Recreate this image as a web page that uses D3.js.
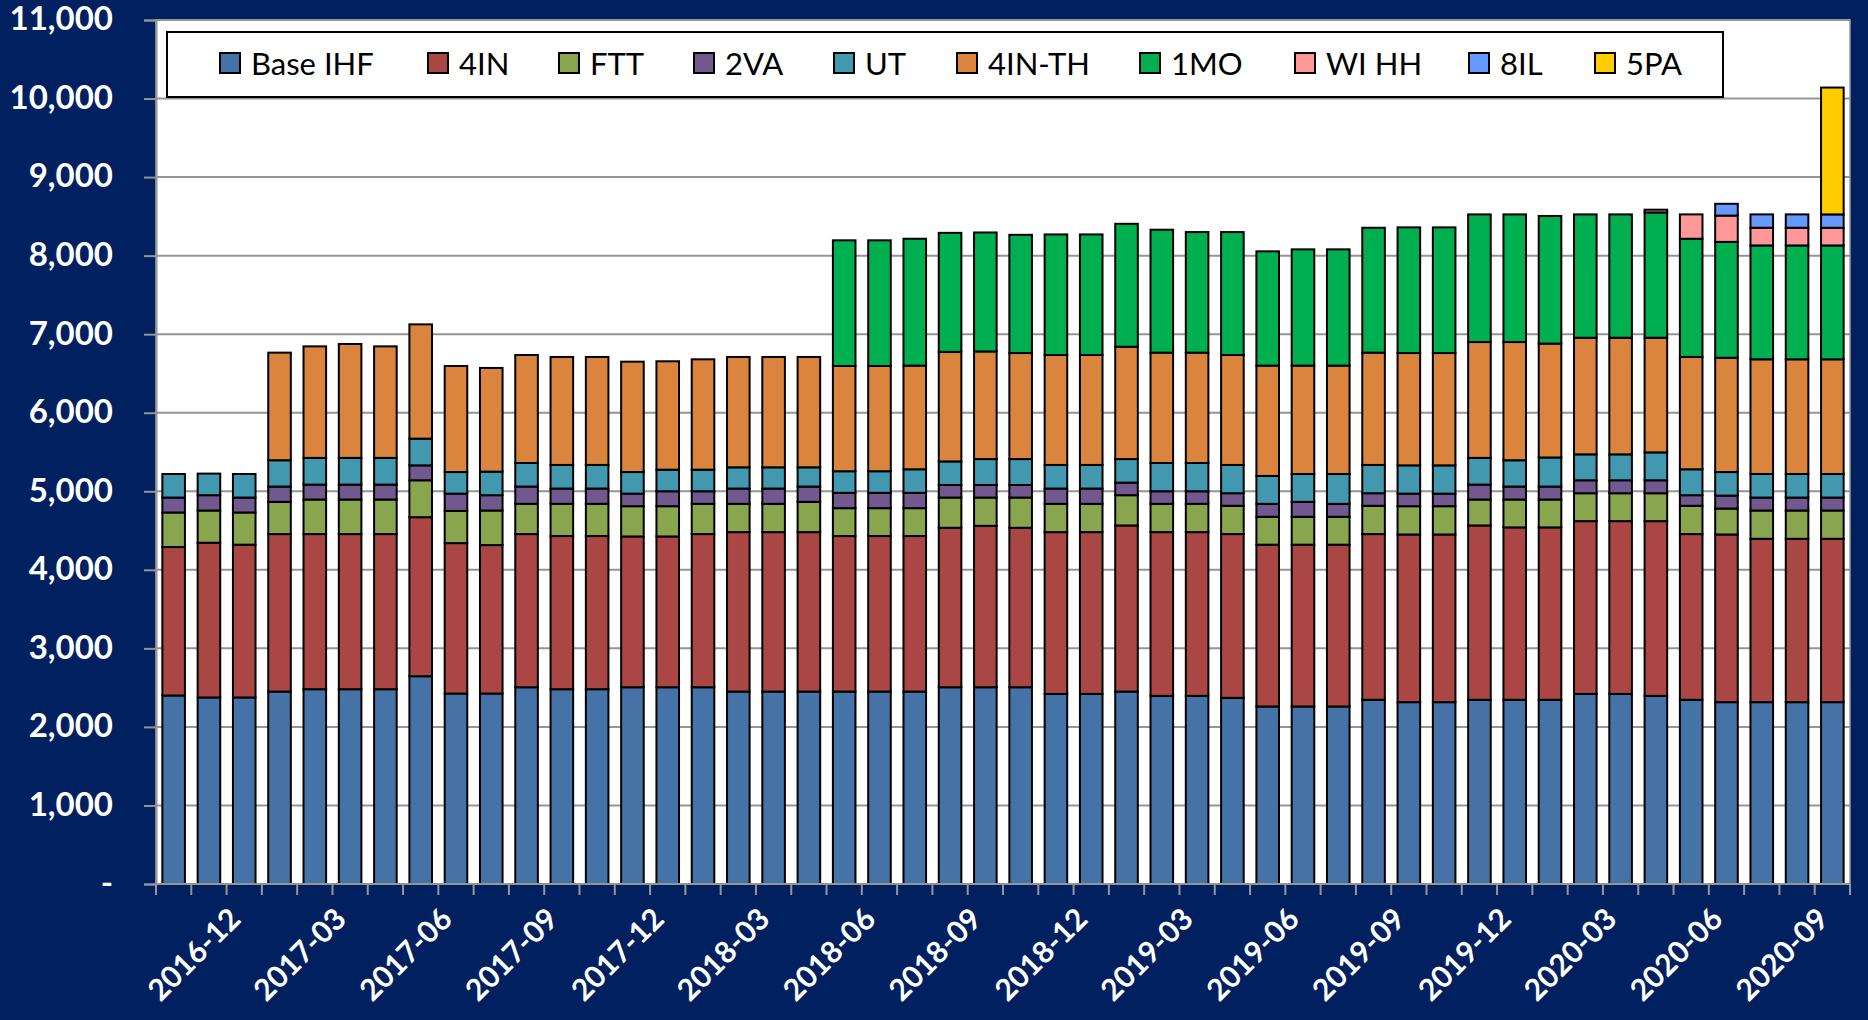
<!DOCTYPE html>
<html>
<head>
<meta charset="utf-8">
<script src="https://cdn.jsdelivr.net/npm/d3@7/dist/d3.min.js"></script>
<style>
  html, body { margin: 0; padding: 0; background: #002060; }
  svg { display: block; }
  text { font-family: Lato, "Noto Sans", sans-serif; }
</style>
</head>
<body>
<div id="chart"></div>
<script>
// ---- data ----
const months = [
  "2016-10","2016-11","2016-12","2017-01","2017-02","2017-03","2017-04","2017-05","2017-06","2017-07","2017-08","2017-09",
  "2017-10","2017-11","2017-12","2018-01","2018-02","2018-03","2018-04","2018-05","2018-06","2018-07","2018-08","2018-09",
  "2018-10","2018-11","2018-12","2019-01","2019-02","2019-03","2019-04","2019-05","2019-06","2019-07","2019-08","2019-09",
  "2019-10","2019-11","2019-12","2020-01","2020-02","2020-03","2020-04","2020-05","2020-06","2020-07","2020-08","2020-09"
];
const tickLabels = ["2016-12","2017-03","2017-06","2017-09","2017-12","2018-03","2018-06","2018-09",
  "2018-12","2019-03","2019-06","2019-09","2019-12","2020-03","2020-06","2020-09"];
const yTicks = [0,1000,2000,3000,4000,5000,6000,7000,8000,9000,10000,11000];

const seriesNames  = ["Base IHF","4IN","FTT","2VA","UT","4IN-TH","1MO","WI HH","8IL","5PA"];
const seriesColors = ["#4572A7","#AA4643","#89A54E","#71588F","#4198AF","#DB843D","#00B050","#FF9999","#6699FF","#FFCC00"];

const baseIHF = [2400,2375,2375,2450,2480,2480,2480,2645,2425,2425,2505,2480,2480,2505,2505,2505,2450,2450,2450,2450,2450,2450,2505,2505,
                 2505,2420,2420,2450,2395,2395,2370,2260,2260,2260,2345,2315,2315,2345,2345,2345,2420,2420,2395,2345,2315,2315,2315,2315];
const in4     = [1890,1970,1945,2005,1975,1975,1975,2025,1915,1890,1950,1950,1950,1920,1920,1950,2030,2030,2030,1980,1980,1980,2030,2055,
                 2030,2060,2060,2115,2085,2085,2085,2060,2060,2060,2110,2135,2135,2220,2195,2195,2200,2200,2225,2110,2135,2080,2080,2080];
const ftt     = [440,410,410,410,440,440,440,470,410,440,385,410,410,385,385,385,360,360,385,355,355,355,385,360,
                 385,360,360,385,360,360,360,355,355,355,360,360,360,330,355,355,355,355,355,360,330,360,360,360];
const va2     = [190,195,190,195,190,190,190,190,220,195,220,195,195,160,190,160,195,195,195,195,195,195,160,160,
                 160,195,195,160,160,160,160,165,190,165,160,160,160,190,165,165,165,165,165,135,165,165,165,165];
const ut      = [300,275,300,335,340,340,340,340,275,300,300,300,300,275,275,275,270,270,245,275,275,300,300,330,
                 330,300,300,300,360,360,360,355,355,380,360,360,360,340,335,370,330,330,355,330,300,300,300,300];
const inTH    = [0,0,0,1370,1420,1450,1420,1455,1350,1320,1375,1375,1375,1405,1380,1405,1405,1405,1405,1340,1340,1320,1395,1370,
                 1350,1400,1400,1430,1405,1405,1400,1405,1380,1380,1430,1430,1430,1475,1505,1450,1485,1485,1460,1430,1455,1460,1460,1460];
const mo1     = [0,0,0,0,0,0,0,0,0,0,0,0,0,0,0,0,0,0,0,1600,1600,1615,1515,1515,
                 1505,1535,1535,1565,1565,1535,1565,1455,1480,1480,1590,1600,1600,1625,1625,1625,1570,1570,1595,1505,1475,1450,1450,1450];
const wihh    = [0,0,0,0,0,0,0,0,0,0,0,0,0,0,0,0,0,0,0,0,0,0,0,0,
                 0,0,0,0,0,0,0,0,0,0,0,0,0,0,0,0,0,0,35,310,335,225,225,225];
const il8     = [0,0,0,0,0,0,0,0,0,0,0,0,0,0,0,0,0,0,0,0,0,0,0,0,
                 0,0,0,0,0,0,0,0,0,0,0,0,0,0,0,0,0,0,0,0,150,170,170,170];
const pa5     = [0,0,0,0,0,0,0,0,0,0,0,0,0,0,0,0,0,0,0,0,0,0,0,0,
                 0,0,0,0,0,0,0,0,0,0,0,0,0,0,0,0,0,0,0,0,0,0,0,1615];

const seriesValues = [baseIHF, in4, ftt, va2, ut, inTH, mo1, wihh, il8, pa5];

// ---- layout ----
const width = 1868, height = 1020;
const plot = { left: 156, right: 1850, top: 20, bottom: 884 };
const gridColor = "#959595";
// left edge of each legend swatch
const legendSlots = [220, 428, 559, 694, 834, 957, 1140, 1295, 1469, 1595];

const rows = months.map((m, i) => {
  const r = { month: m };
  seriesNames.forEach((s, k) => { r[s] = seriesValues[k][i]; });
  return r;
});

const svg = d3.select("#chart")
  .append("svg")
  .attr("width", width)
  .attr("height", height);

svg.append("rect")
  .attr("width", width).attr("height", height)
  .style("fill", "#002060");

// plot area
svg.append("rect")
  .attr("x", plot.left).attr("y", plot.top)
  .attr("width", plot.right - plot.left)
  .attr("height", plot.bottom - plot.top)
  .style("fill", "white")
  .style("stroke", "#9a9a9a")
  .style("stroke-width", "1.5px");

const scaleX = d3.scaleBand()
  .domain(months)
  .range([plot.left, plot.right])
  .paddingInner(0.36)
  .paddingOuter(0.18);

const scaleY = d3.scaleLinear()
  .domain([0, 11000])
  .range([plot.bottom, plot.top]);

// gridlines
svg.append("g")
  .selectAll("line")
  .data(yTicks.filter(d => d > 0))
  .join("line")
  .attr("x1", plot.left).attr("x2", plot.right)
  .attr("y1", d => scaleY(d)).attr("y2", d => scaleY(d))
  .style("stroke", gridColor)
  .style("stroke-width", "2px");

// y axis
const yAxis = d3.axisLeft(scaleY)
  .tickValues(yTicks)
  .tickSize(12)
  .tickPadding(31)
  .tickFormat(d => d === 0 ? "-" : d3.format(",")(d));

const ya = svg.append("g")
  .attr("transform", `translate(${plot.left},0)`)
  .call(yAxis);
ya.select(".domain").style("stroke", gridColor).style("stroke-width", "2px");
ya.selectAll(".tick line").style("stroke", gridColor).style("stroke-width", "2px");
ya.selectAll(".tick text")
  .attr("dy", "0.3em")
  .style("fill", "white")
  .style("font-family", "Lato, 'Noto Sans', sans-serif")
  .style("font-weight", "bold")
  .style("font-size", "33px");

// stacked bars
const stacked = d3.stack().keys(seriesNames)(rows);

svg.append("g")
  .selectAll("g")
  .data(stacked)
  .join("g")
  .style("fill", (d, i) => seriesColors[i])
  .selectAll("rect")
  .data(d => d.filter(p => p[1] - p[0] > 0))
  .join("rect")
  .attr("x", d => scaleX(d.data.month))
  .attr("width", scaleX.bandwidth())
  .attr("y", d => scaleY(d[1]))
  .attr("height", d => scaleY(d[0]) - scaleY(d[1]))
  .style("stroke", "black")
  .style("stroke-width", "2px");

// x axis: ticks on the category boundaries
const step = scaleX.step();
const xa = svg.append("g");
xa.append("line")
  .attr("x1", plot.left).attr("x2", plot.right)
  .attr("y1", plot.bottom).attr("y2", plot.bottom)
  .style("stroke", gridColor).style("stroke-width", "2px");
xa.selectAll(".xtick")
  .data(d3.range(months.length + 1))
  .join("line")
  .attr("class", "xtick")
  .attr("x1", i => plot.left + i * step).attr("x2", i => plot.left + i * step)
  .attr("y1", plot.bottom).attr("y2", plot.bottom + 11)
  .style("stroke", gridColor).style("stroke-width", "2px");

xa.selectAll(".xlabel")
  .data(tickLabels)
  .join("text")
  .attr("class", "xlabel")
  .attr("text-anchor", "end")
  .attr("transform", d => {
    const cx = scaleX(d) + scaleX.bandwidth() / 2 - 2;
    return `translate(${cx},921) rotate(-45)`;
  })
  .style("fill", "white")
  .style("font-weight", "bold")
  .style("font-size", "30px")
  .text(d => d);

// legend
const legend = svg.append("g");
legend.append("rect")
  .attr("x", 167).attr("y", 32)
  .attr("width", 1723 - 167).attr("height", 97 - 32)
  .style("fill", "white")
  .style("stroke", "black")
  .style("stroke-width", "2px");

const items = legend.selectAll(".item")
  .data(seriesNames)
  .join("g")
  .attr("class", "item")
  .attr("transform", (d, i) => `translate(${legendSlots[i]},0)`);
items.append("rect")
  .attr("x", 0).attr("y", 53)
  .attr("width", 20).attr("height", 20)
  .style("fill", (d, i) => seriesColors[i])
  .style("stroke", "black")
  .style("stroke-width", "2px");
items.append("text")
  .attr("x", 31).attr("y", 75)
  .style("fill", "black")
  .style("font-size", "31px")
  .text(d => d);
</script>
</body>
</html>
